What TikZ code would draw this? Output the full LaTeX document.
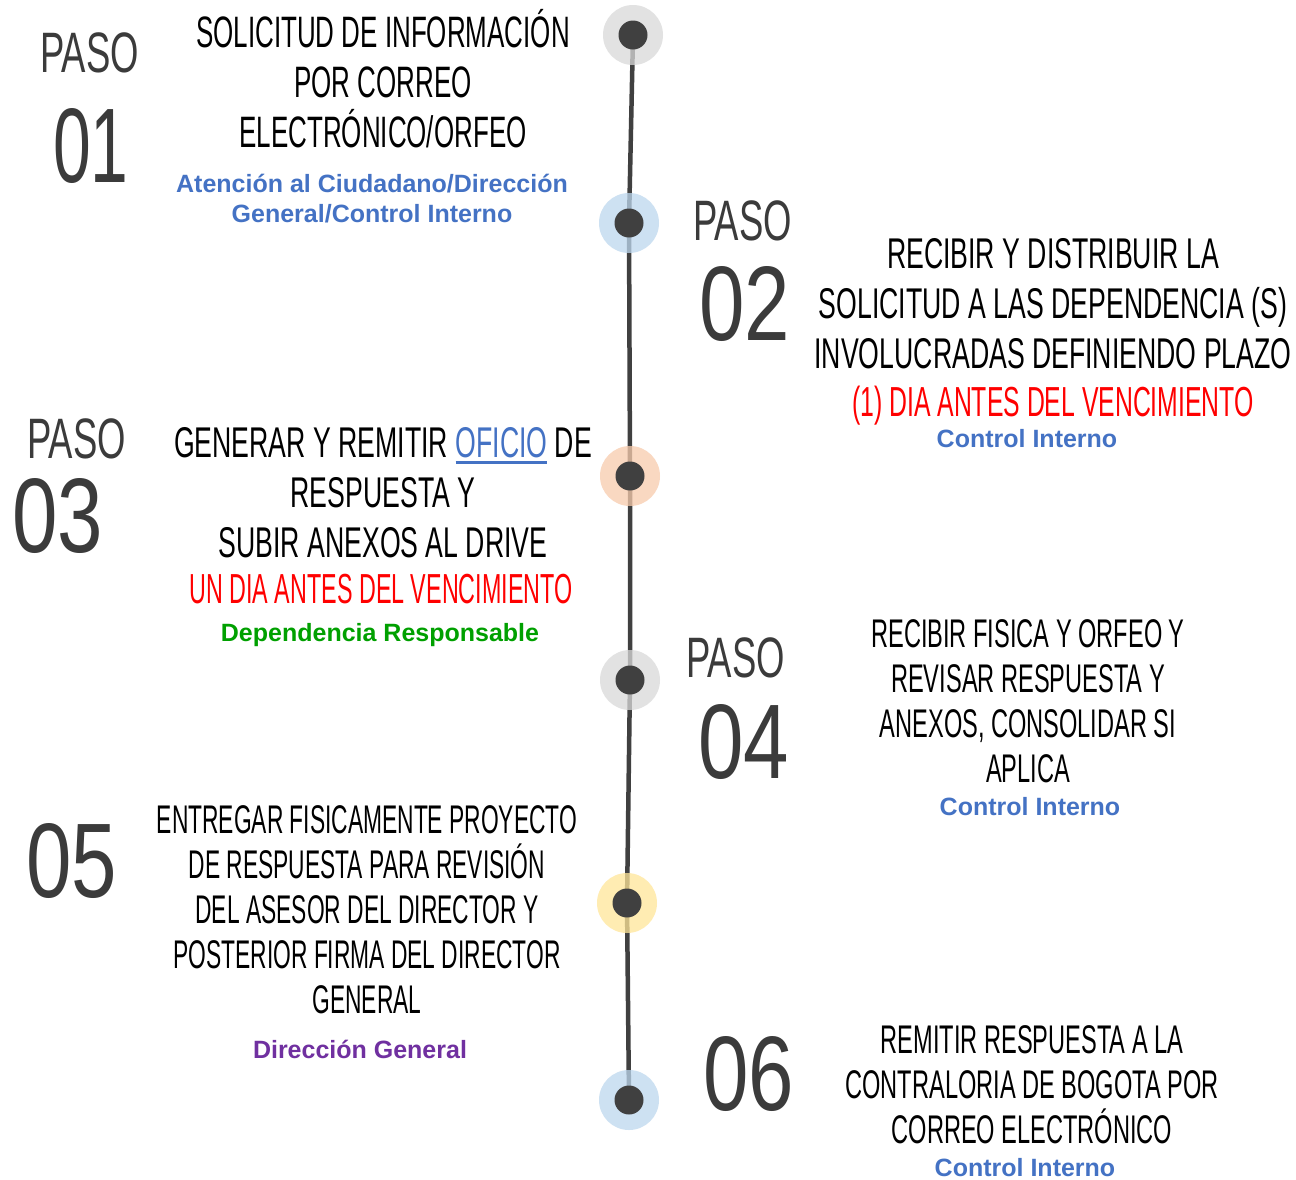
\documentclass[tikz,border=0pt]{standalone}
\usepackage{fontspec}
\setmainfont{Liberation Sans}
\newfontfamily\condf[FakeStretch=0.59]{Liberation Sans}
\newfontfamily\condw[FakeStretch=0.62]{Liberation Sans}
\newfontfamily\condn[FakeStretch=0.57]{Liberation Sans}
\newfontfamily\condr[FakeStretch=0.555]{Liberation Sans}
\newfontfamily\dinf[FakeStretch=0.64]{Liberation Sans}
\newfontfamily\dinw[FakeStretch=0.77]{Liberation Sans}
\newfontfamily\labf{Liberation Sans}
\newcommand\ulthick[1]{\setbox0\hbox{#1}\rlap{\rule[-7pt]{\wd0}{3.5pt}}\box0}
\definecolor{spinec}{HTML}{404040}
\definecolor{numc}{HTML}{3B3B3B}
\definecolor{hgray}{HTML}{D9D9D9}
\definecolor{hblue}{HTML}{BDD7EE}
\definecolor{horange}{HTML}{F8CBAD}
\definecolor{hyellow}{HTML}{FFE699}
\definecolor{lblue}{HTML}{4472C4}
\definecolor{lred}{HTML}{FF0000}
\definecolor{lgreen}{HTML}{00A000}
\definecolor{lpurple}{HTML}{7030A0}
\begin{document}
\begin{tikzpicture}[x=1pt,y=-1pt,
  halo/.style={circle,minimum size=60pt,inner sep=0pt,fill=#1,fill opacity=0.75,draw=none},
  dotn/.style={circle,minimum size=29pt,inner sep=0pt,fill=spinec},
  spine/.style={draw=spinec,line width=4.5pt},
  pasolbl/.style={anchor=base west,inner sep=0pt,text=numc,font=\dinf\fontsize{57}{57}\selectfont},
  numlbl/.style={anchor=base west,inner sep=0pt,text=numc,font=\dinw\fontsize{106}{106}\selectfont},
  mainA/.style={anchor=base,inner sep=0pt,align=center,font=\condw\fontsize{43}{50}\selectfont},
  mainB/.style={anchor=base,inner sep=0pt,align=center,font=\condf\fontsize{40}{45}\selectfont},
  redl/.style={anchor=base,inner sep=0pt,text=lred,font=\condf\fontsize{42}{42}\selectfont},
  resp/.style={anchor=base,inner sep=0pt,align=center,text=#1,font=\labf\bfseries\fontsize{25}{30}\selectfont}
]
\useasboundingbox (0,0) rectangle (1296,1179);
\fill[white] (0,0) rectangle (1296,1179);

% timeline points
\coordinate (p1) at (633,35);
\coordinate (p2) at (629,223);
\coordinate (p3) at (630,476);
\coordinate (p4) at (630,680);
\coordinate (p5) at (627,903);
\coordinate (p6) at (629,1100);
\draw[spine] (p1) -- (p2) -- (p3) -- (p4) -- (p5) -- (p6);

\node[halo=hgray]   (h1) at (p1) {};
\node[halo=hblue]   (h2) at (p2) {};
\node[halo=horange] (h3) at (p3) {};
\node[halo=hgray]   (h4) at (p4) {};
\node[halo=hyellow] (h5) at (p5) {};
\node[halo=hblue]   (h6) at (p6) {};
\node[dotn] (d1) at (p1) {};
\node[dotn] (d2) at (p2) {};
\node[dotn] (d3) at (p3) {};
\node[dotn] (d4) at (p4) {};
\node[dotn] (d5) at (p5) {};
\node[dotn] (d6) at (p6) {};

% step 1
\node[pasolbl] (paso1) at (40,72) {PASO};
\node[numlbl,font=\dinf\fontsize{106}{106}\selectfont] (num1) at (53,182) {01};
\node[mainA,font=\condf\fontsize{44}{50}\selectfont] (t1) at (383,147) {SOLICITUD DE INFORMACIÓN\\POR CORREO\\ELECTRÓNICO/ORFEO};
\node[resp=lblue] (r1) at (372,222) {Atención al Ciudadano/Dirección\\General/Control Interno};

% step 2
\node[pasolbl] (paso2) at (693,240) {PASO};
\node[numlbl] (num2) at (699,340) {02};
\node[mainA] (t2) at (1053,368) {RECIBIR Y DISTRIBUIR LA\\SOLICITUD A LAS DEPENDENCIA (S)\\INVOLUCRADAS DEFINIENDO PLAZO};
\node[redl] (red2) at (1053,416) {(1) DIA ANTES DEL VENCIMIENTO};
\node[resp=lblue] (r2) at (1027,447) {Control Interno};

% step 3
\node[pasolbl] (paso3) at (27,458) {PASO};
\node[numlbl] (num3) at (12,552) {03};
\node[mainA] (t3) at (383,557) {GENERAR Y REMITIR \textcolor{lblue}{\ulthick{OFICIO}} DE\\RESPUESTA Y\\SUBIR ANEXOS AL DRIVE};
\node[redl,font=\condr\fontsize{42}{42}\selectfont] (red3) at (381,603) {UN DIA ANTES DEL VENCIMIENTO};
\node[resp=lgreen] (r3) at (380,641) {Dependencia Responsable};

% step 4
\node[pasolbl] (paso4) at (686,677) {PASO};
\node[numlbl] (num4) at (698,778) {04};
\node[mainB] (t4) at (1028,782) {RECIBIR FISICA Y ORFEO Y\\REVISAR RESPUESTA Y\\ANEXOS, CONSOLIDAR SI\\APLICA};
\node[resp=lblue] (r4) at (1030,815) {Control Interno};

% step 5
\node[numlbl] (num5) at (26,897) {05};
\node[mainB,font=\condn\fontsize{40}{45}\selectfont] (t5) at (367,1013) {ENTREGAR FISICAMENTE PROYECTO\\DE RESPUESTA PARA REVISIÓN\\DEL ASESOR DEL DIRECTOR Y\\POSTERIOR FIRMA DEL DIRECTOR\\GENERAL};
\node[resp=lpurple] (r5) at (360,1058) {Dirección General};

% step 6
\node[numlbl] (num6) at (703,1110) {06};
\node[mainB] (t6) at (1032,1143) {REMITIR RESPUESTA A LA\\CONTRALORIA DE BOGOTA POR\\CORREO ELECTRÓNICO};
\node[resp=lblue] (r6) at (1025,1176) {Control Interno};
\end{tikzpicture}
\end{document}
